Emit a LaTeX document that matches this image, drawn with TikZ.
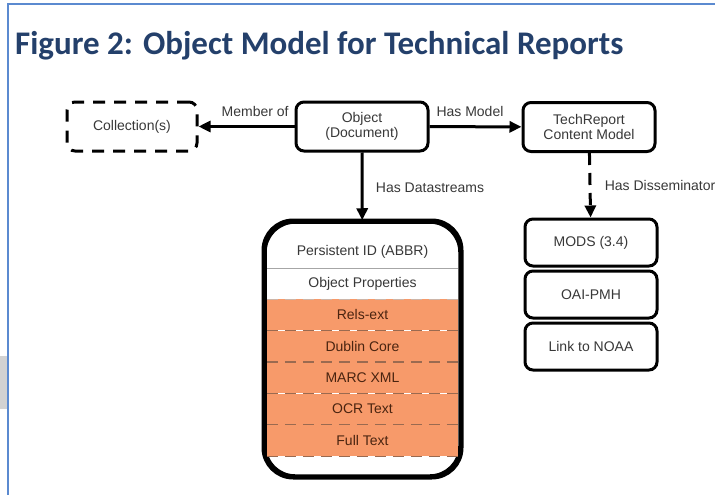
\documentclass[tikz,border=0pt]{standalone}
\usepackage{fontspec}
\setmainfont{Liberation Sans}
\newfontfamily\titlefont{Carlito}
\usetikzlibrary{positioning,arrows.meta}

\definecolor{frameblue}{HTML}{5B8AD0}
\definecolor{titleblue}{HTML}{24406B}
\definecolor{dsorange}{HTML}{F79A6A}
\definecolor{boxtext}{HTML}{383838}
\definecolor{rowtext}{HTML}{4A2410}
\definecolor{sepline}{HTML}{9A6A50}

\begin{document}
\begin{tikzpicture}[x=1pt, y=-1pt, node distance=2pt,
    box/.style={draw, line width=3pt, rounded corners=8pt, fill=white,
                minimum width=132pt, minimum height=49pt, align=center,
                text=boxtext, font=\fontsize{14}{15}\selectfont},
    dsrow/.style={minimum width=191pt, minimum height=31pt, inner sep=0pt,
                  text=boxtext, font=\fontsize{14}{15}\selectfont},
    orangerow/.style={dsrow, fill=dsorange, text=rowtext},
    rowsep/.style={sepline, line width=1.2pt, dash pattern=on 11pt off 7pt},
    link/.style={line width=3pt, -{Triangle[length=12pt,width=11pt]}}]

  \useasboundingbox (0,0) rectangle (715,495);
  \clip (0,0) rectangle (715,495);

  % page frame
  \fill[gray!35] (0,356) rectangle (7,409);
  \draw[frameblue, line width=2.5pt] (8,495) -- (8,4) -- (715,4);

  \node[anchor=base west, inner sep=0pt, text=titleblue,
        font=\titlefont\bfseries\fontsize{33}{38}\selectfont] (title) at (15,55)
        {Figure 2: Object Model for Technical Reports};

  \node[box] (obj) at (362,126.5) {Object\\(Document)};
  \node[box, dash pattern=on 12pt off 9pt, minimum width=130pt] (coll) at (132,126.5) {Collection(s)};
  \node[box] (model) at (589,127) {TechReport\\Content Model};

  % datastreams
  \node[draw, line width=3.5pt, rounded corners=30pt, fill=white,
        minimum width=195pt, minimum height=254pt] (ds) at (362.5,349) {};
  \node[dsrow] (pid) at (362.5,252) {Persistent ID (ABBR)};
  \node[dsrow, minimum height=30pt] (props) at (362.5,284) {Object Properties};
  \node[orangerow, below=0pt of props] (rels) {Rels-ext};
  \node[orangerow, below=0pt of rels] (dc) {Dublin Core};
  \node[orangerow, below=0pt of dc] (marc) {MARC XML};
  \node[orangerow, below=0pt of marc] (ocr) {OCR Text};
  \node[orangerow, below=0pt of ocr] (full) {Full Text};
  \draw[gray!70, line width=1.2pt] (props.north west) -- (props.north east);
  \draw[rowsep, sepline!50] (rels.north west) -- (rels.north east);
  \draw[rowsep] (rels.south west) -- (rels.south east);
  \draw[rowsep] (dc.south west) -- (dc.south east);
  \draw[rowsep] (marc.south west) -- (marc.south east);
  \draw[rowsep] (ocr.south west) -- (ocr.south east);
  \draw[rowsep] (full.south west) -- (full.south east);
  \draw[line width=3.5pt, rounded corners=30pt] (ds.north west) rectangle (ds.south east);

  % disseminators
  \node[box, minimum height=47pt] (mods) at (591,242.5) {MODS (3.4)};
  \node[box, minimum height=47pt, below=of mods] (oai) {OAI-PMH};
  \node[box, minimum height=47pt, below=of oai] (noaa) {Link to NOAA};

  \path[every node/.style={text=boxtext, font=\fontsize{14}{15}\selectfont}]
    (obj) edge[link] node[above=5pt, pos=0.41] {Member of} (coll)
    (obj) edge[link] node[above=5pt, pos=0.44] {Has Model} (model)
    (obj) edge[link] node[right=9pt, pos=0.52] {Has Datastreams} (ds)
    (model) edge[link, dash pattern=on 12pt off 8pt] node[right=10pt, pos=0.5] {Has Disseminator} (mods)
;
\end{tikzpicture}
\end{document}
